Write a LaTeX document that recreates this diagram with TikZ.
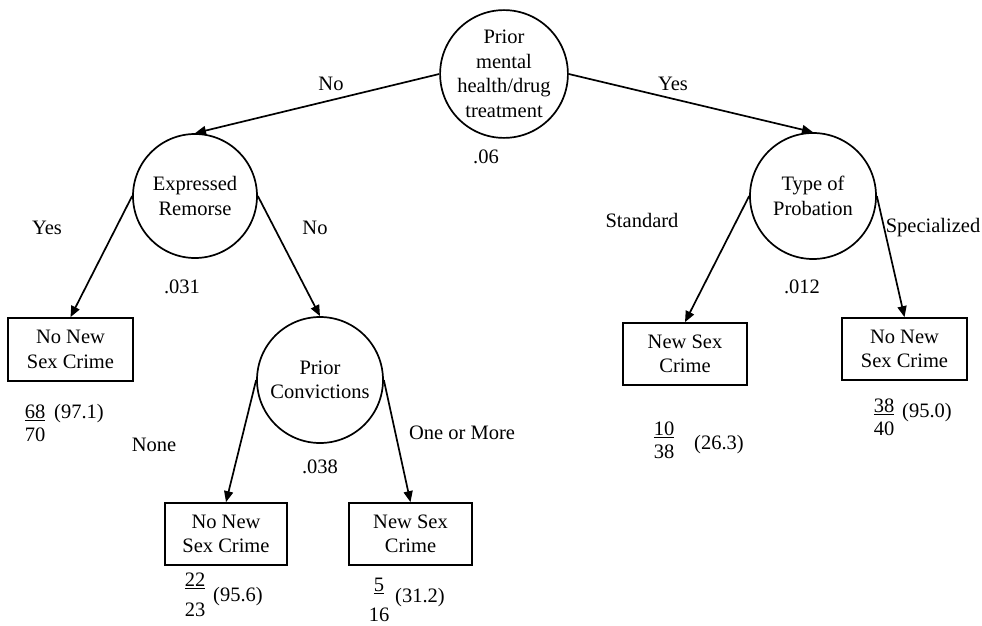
\documentclass[tikz,border=0pt]{standalone}
\usepackage{fontspec}
\setmainfont{Liberation Serif}
\usetikzlibrary{arrows.meta}
\begin{document}
\begin{tikzpicture}[x=1pt,y=-1pt,
  every node/.style={font=\fontsize{20.5}{24.5}\selectfont, inner sep=0pt},
  decision/.style={circle, draw, line width=1.7pt, align=center},
  leaf/.style={rectangle, draw, line width=1.7pt, align=center},
  arr/.style={line width=1.7pt, -{Triangle[length=11pt,width=9pt]}},
  frac/.style={align=center, font=\fontsize{20.5}{23}\selectfont},
  widefrac/.style={align=center, font=\fontsize{20.5}{30}\selectfont}
]
\useasboundingbox (0,0) rectangle (982,626);

% decision nodes
\node[decision, minimum size=120pt] (root) at (504,74) {Prior\\mental\\health/drug\\treatment};
\node[decision, minimum size=124pt] (er) at (195,196) {Expressed\\Remorse};
\node[decision, minimum size=126pt] (pc) at (320,380) {Prior\\Convictions};
\node[decision, minimum size=126pt] (tp) at (813,196) {Type of\\Probation};

% outcome boxes
\node[leaf, minimum width=125pt, minimum height=63pt] (b1) at (70.5,349.5) {No New\\Sex Crime};
\node[leaf, minimum width=122pt, minimum height=62pt] (b2) at (226,534) {No New\\Sex Crime};
\node[leaf, minimum width=123pt, minimum height=62pt] (b3) at (410.5,534) {New Sex\\Crime};
\node[leaf, minimum width=124pt, minimum height=62pt] (b4) at (685,354) {New Sex\\Crime};
\node[leaf, minimum width=125pt, minimum height=62pt] (b5) at (904.5,349) {No New\\Sex Crime};

% branches
\draw[arr] (root.west) -- (er.north);
\draw[arr] (root.east) -- (tp.north);
\draw[arr] (er.west) -- (b1.north);
\draw[arr] (er.east) -- (pc.north);
\draw[arr] (pc.west) -- (b2.north);
\draw[arr] (pc.east) -- (b3.north);
\draw[arr] (tp.west) -- (b4.north);
\draw[arr] (tp.east) -- (b5.north);

% branch labels
\node (lno) at (331,84) {No};
\node (lyes) at (673,84) {Yes};
\node (lyes2) at (47,228) {Yes};
\node (lno2) at (315,228) {No};
\node (lnone) at (154,445) {None};
\node (lmore) at (462,433) {One or More};
\node (lstd) at (642,220) {Standard};
\node (lspec) at (933,228) {Specialized};

% split significance
\node (p1) at (486,157) {.06};
\node (p2) at (182,287) {.031};
\node (p3) at (320,467) {.038};
\node (p4) at (802,287) {.012};

% outcome counts and percentages
\node[frac] (f1) at (35,423) {\underline{68}\\70};
\node (q1) at (79,414) {(97.1)};
\node[widefrac] (f2) at (195,595) {\underline{22}\\23};
\node (q2) at (238,597) {(95.6)};
\node[widefrac] (f3) at (379,600) {\underline{5}\\16};
\node (q3) at (420,598) {(31.2)};
\node[frac] (f4) at (664,440) {\underline{10}\\38};
\node (q4) at (719,445) {(26.3)};
\node[frac] (f5) at (884,417) {\underline{38}\\40};
\node (q5) at (927,413) {(95.0)};
\end{tikzpicture}
\end{document}
